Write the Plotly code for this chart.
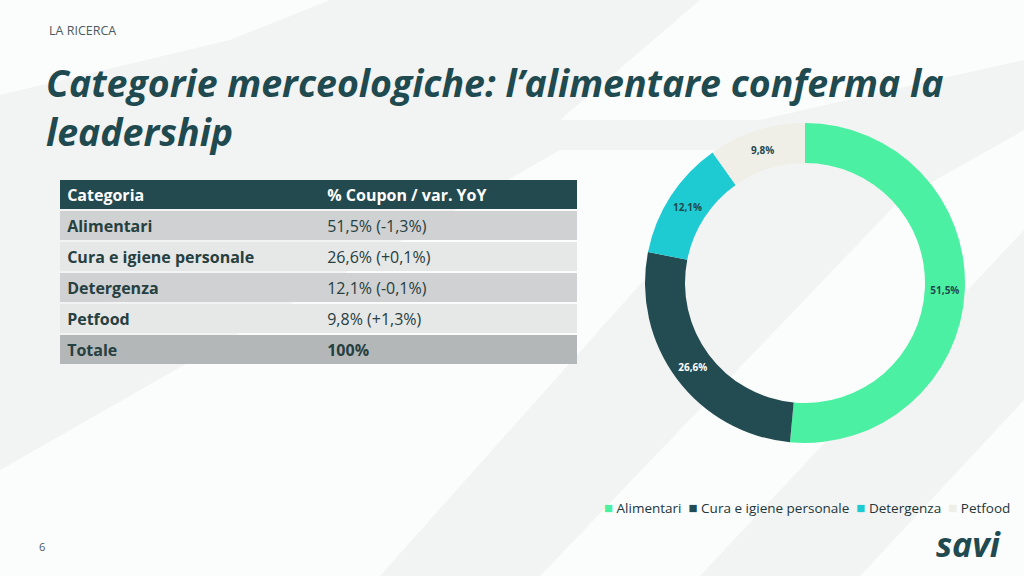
import plotly.graph_objects as go

# ---- data ----
categories = ["Alimentari", "Cura e igiene personale", "Detergenza", "Petfood"]
shares = [51.5, 26.6, 12.1, 9.8]
share_labels = ["51,5%", "26,6%", "12,1%", "9,8%"]
yoy_labels = ["51,5% (-1,3%)", "26,6% (+0,1%)", "12,1% (-0,1%)", "9,8% (+1,3%)"]
total_label = "Totale"
total_value = "100%"
table_headers = ["Categoria", "% Coupon / var. YoY"]

colors = ["#4cf0a2", "#234c52", "#1fcbd2", "#efeee7"]
label_colors = ["#1f4a50", "#ffffff", "#1f4a50", "#1f4a50"]
DARK = "#1f4a4f"
FONT = "Open Sans"
NB = "\u00a0"

W, H = 1024, 576
def px(x): return x / W
def py(y): return 1 - y / H

fig = go.Figure()

# donut
fig.add_trace(go.Pie(
    labels=categories, values=shares, text=share_labels,
    textinfo="text", textposition="inside", insidetextorientation="horizontal",
    hole=0.75, sort=False, direction="clockwise", rotation=0,
    marker=dict(colors=colors, line=dict(width=0)),
    textfont=dict(family=FONT, size=10, color=label_colors, weight="bold"),
    domain=dict(x=[px(645), px(965)], y=[py(443), py(123)]),
    showlegend=False, hoverinfo="label+percent",
))

# table drawn as stacked horizontal bars (one row per category)
row_keys = table_headers[:1] + categories + [total_label]
col1_text = [f"<b>{NB}{k}</b>" for k in row_keys]
col2_text = [f"<b>{NB}{table_headers[1]}</b>"] + [NB + v for v in yoy_labels] + [f"<b>{NB}{total_value}</b>"]
row_fill = ["#234a4f", "#cfd1d2", "#e6e7e7", "#cfd1d2", "#e6e7e7", "#b4b7b8"]
row_font = ["#ffffff", "#26403f", "#26403f", "#26403f", "#26403f", "#26403f"]
COL1 = 0.503
for frac, txt in [(COL1, col1_text), (1 - COL1, col2_text)]:
    fig.add_trace(go.Bar(
        y=row_keys, x=[frac] * len(row_keys), orientation="h",
        text=txt, textposition="inside", insidetextanchor="start",
        textangle=0, constraintext="none",
        textfont=dict(family=FONT, size=16, color=row_font),
        marker=dict(color=row_fill, line=dict(width=0)),
        hoverinfo="skip", showlegend=False,
    ))

# background stripes
bg_shapes = []
stripes = [
    [(0, 95), (0, 0), (330, 0), (230, 40)],
    [(0, 576), (0, 470), (560, 150), (760, 150), (380, 576)],
    [(540, 576), (900, 200), (1024, 130), (1024, 230), (700, 576)],
    [(860, 576), (1024, 400), (1024, 576)],
    [(560, 120), (700, 0), (1024, 0), (1024, 60), (760, 120)],
]
for pts in stripes:
    bg_shapes.append(dict(type="path", xref="paper", yref="paper", layer="below",
                          path="M " + " L ".join(f"{px(x)},{py(y)}" for x, y in pts) + " Z",
                          fillcolor="rgba(255,255,255,0.7)", line=dict(width=0)))

legend_text = (NB * 2).join(
    f"<span style='color:{c};font-size:15px'>■</span>{NB}{lab}"
    for lab, c in zip(categories, colors))

annotations = [
    dict(text="LA RICERCA", x=px(47), y=py(31), xref="paper", yref="paper",
         xanchor="left", yanchor="middle", showarrow=False,
         font=dict(family=FONT, size=12.5, color="#4b5b5e")),
    dict(text="<b><i>Categorie merceologiche: l’alimentare conferma la<br>leadership</i></b>",
         x=px(44), y=py(55), xref="paper", yref="paper", xanchor="left", yanchor="top",
         align="left", showarrow=False,
         font=dict(family=FONT, size=37.5, color=DARK)),
    dict(text="6", x=px(37), y=py(546), xref="paper", yref="paper",
         xanchor="left", yanchor="middle", showarrow=False,
         font=dict(family=FONT, size=11, color="#4b5b5e")),
    dict(text="<b><i>savi</i></b>", x=px(1003), y=py(544), xref="paper", yref="paper",
         xanchor="right", yanchor="middle", showarrow=False,
         font=dict(family=FONT, size=34, color=DARK)),
    dict(text=legend_text, x=px(1012), y=py(507), xref="paper", yref="paper",
         xanchor="right", yanchor="middle", showarrow=False,
         font=dict(family=FONT, size=13.5, color="#22363a")),
]

fig.update_layout(
    width=W, height=H, margin=dict(l=0, r=0, t=0, b=0),
    paper_bgcolor="#f2f3f3", plot_bgcolor="rgba(0,0,0,0)",
    shapes=bg_shapes, annotations=annotations,
    barmode="stack", bargap=0.07, showlegend=False,
    xaxis=dict(domain=[px(60), px(577)], range=[0, 1], visible=False, fixedrange=True),
    yaxis=dict(domain=[py(365), py(179)], autorange="reversed", visible=False,
               fixedrange=True, categoryorder="array", categoryarray=row_keys),
)

fig.write_html("out.html", config={"displayModeBar": False},
               post_script="document.body.style.margin='0';document.body.style.overflow='hidden';")
